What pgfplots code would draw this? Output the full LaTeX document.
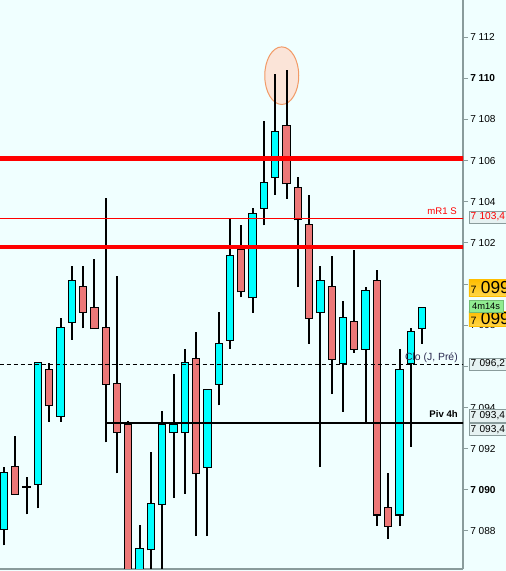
\documentclass[border=0pt]{standalone}
\usepackage{fontspec}
\setmainfont{Liberation Sans}
\usepackage{pgfplots}
\pgfplotsset{compat=1.18}
\usepackage{pgfplotstable}

\definecolor{bg}{HTML}{F0FFFF}
\definecolor{bullc}{HTML}{00FFFF}
\definecolor{bearc}{HTML}{EC7878}
\definecolor{scalec}{HTML}{8A9C9C}
\definecolor{boxbg}{HTML}{E6F2F2}
\definecolor{goldtop}{HTML}{FFBE00}
\definecolor{goldbot}{HTML}{FFD64A}
\definecolor{timer}{HTML}{90EC90}
\definecolor{halo}{HTML}{FBE4D8}
\definecolor{haloline}{HTML}{F29A66}
\definecolor{lbl}{HTML}{2A2A50}

% bullish candles (cyan): index open high low close
\pgfplotstableread{
i  o        h        l        c
0  7088.10  7091.10  7087.30  7090.80
2  7090.15  7090.60  7088.80  7090.15
3  7090.30  7096.15  7089.10  7096.15
5  7093.60  7098.35  7093.30  7097.85
6  7098.15  7100.90  7097.30  7100.15
12 7085.50  7088.30  7085.00  7087.10
13 7087.10  7091.85  7085.50  7089.30
14 7089.30  7093.85  7085.50  7093.15
15 7092.80  7095.65  7089.60  7093.15
16 7092.80  7096.85  7089.80  7096.15
18 7091.10  7094.85  7087.75  7094.85
19 7095.15  7098.65  7094.10  7097.10
20 7097.30  7103.15  7096.85  7101.35
22 7099.35  7103.70  7098.60  7103.40
23 7103.70  7107.95  7102.85  7104.90
24 7105.20  7110.20  7104.35  7107.40
28 7098.65  7100.90  7091.10  7100.15
30 7096.15  7099.20  7093.80  7098.35
32 7096.85  7099.85  7093.25  7099.65
35 7088.80  7096.85  7088.25  7095.80
36 7096.15  7097.85  7092.10  7097.65
37 7097.85  7098.85  7097.10  7098.85
}\bulltab

% bearish candles (red)
\pgfplotstableread{
i  o        h        l        c
1  7091.10  7092.60  7089.80  7089.80
4  7095.80  7096.15  7093.30  7094.10
7  7099.85  7100.90  7097.85  7098.65
8  7098.85  7101.20  7097.85  7097.85
9  7097.85  7104.20  7092.30  7095.15
10 7095.15  7100.40  7090.80  7092.80
11 7093.15  7093.35  7085.00  7085.50
17 7096.35  7097.65  7087.75  7090.80
21 7101.65  7102.85  7099.35  7099.65
25 7107.70  7110.40  7104.15  7104.90
26 7104.65  7105.20  7099.85  7103.15
27 7102.85  7104.35  7097.10  7098.35
29 7099.85  7101.35  7094.65  7096.35
31 7098.15  7101.65  7096.65  7096.85
33 7100.15  7100.70  7088.25  7088.80
34 7089.10  7090.80  7087.60  7088.25
}\beartab

\pgfplotsset{
  wick/.style={draw=none, no marks, forget plot,
    error bars/.cd, y dir=plus, y explicit, error mark=none,
    error bar style={draw=black, line width=1.5pt}},
  body/.style 2 args={draw=none, no marks, forget plot,
    error bars/.cd, y dir=plus, y explicit, error mark=none,
    error bar style={draw=#1, line width=#2}},
}

\begin{document}
\begin{tikzpicture}
\fill[bg] (0,0) rectangle (379.5pt,428.25pt);
\begin{axis}[
  at={(0,1.5pt)}, anchor=south west,
  scale only axis, width=347.25pt, height=426.75pt,
  xmin=-0.354, xmax=40.62, ymin=7086.15, ymax=7113.81,
  axis x line*=bottom, axis y line*=right,
  axis line style={scalec, line width=0.9pt},
  xtick=\empty,
  ytick={7088,7090,...,7112},
  yticklabels={7 088,\textbf{7 090},7 092,7 094,,7 098,,7 102,7 104,7 106,7 108,\textbf{7 110},7 112},
  tick align=outside, major tick length=3.75pt,
  ytick style={scalec, line width=0.75pt},
  yticklabel style={font=\fontsize{7.6}{9}\selectfont, text=black, inner sep=1pt, xshift=0.5pt},
]
% highlight round the top
\draw[haloline, fill=halo, line width=0.75pt] (axis cs:24.58,7110.13) ellipse [x radius=12.75pt, y radius=21.6pt];

% wicks
\addplot [wick] table [x=i, y=l, y error plus expr=\thisrow{h}-\thisrow{l}] {\bulltab};
\addplot [wick] table [x=i, y=l, y error plus expr=\thisrow{h}-\thisrow{l}] {\beartab};

% bodies: black outline, then colour
\addplot [body={black}{6.2pt}] table [x=i, y expr={min(\thisrow{o},\thisrow{c})-0.05}, y error plus expr={abs(\thisrow{c}-\thisrow{o})+0.1}] {\bulltab};
\addplot [body={bullc}{4.7pt}] table [x=i, y expr={min(\thisrow{o},\thisrow{c})}, y error plus expr={abs(\thisrow{c}-\thisrow{o})}] {\bulltab};
\addplot [body={black}{6.2pt}] table [x=i, y expr={min(\thisrow{o},\thisrow{c})-0.05}, y error plus expr={abs(\thisrow{c}-\thisrow{o})+0.1}] {\beartab};
\addplot [body={bearc}{4.7pt}] table [x=i, y expr={min(\thisrow{o},\thisrow{c})}, y error plus expr={abs(\thisrow{c}-\thisrow{o})}] {\beartab};

% levels
\addplot [red, line width=3.2pt, forget plot] coordinates {(-1,7106.1) (42,7106.1)};
\addplot [red, line width=3.2pt, forget plot] coordinates {(-1,7101.8) (42,7101.8)};
\addplot [red, line width=0.75pt, forget plot] coordinates {(-1,7103.2) (42,7103.2)};
\addplot [black, line width=0.75pt, dash pattern=on 3pt off 2.25pt, forget plot] coordinates {(-1,7096.07) (42,7096.07)};
\addplot [black, line width=1.5pt, forget plot] coordinates {(9.03,7093.26) (42,7093.26)};
\end{axis}

% level names
\node[anchor=east, inner sep=0pt, text=red, font=\fontsize{7.2}{8}\selectfont] at (342.75pt,269.5pt) {mR1 S};
\node[anchor=east, inner sep=0pt, text=lbl, font=\fontsize{7.8}{9}\selectfont] at (343.5pt,160pt) {Clo (J, Pré)};
\node[anchor=east, inner sep=0pt, text=black, font=\bfseries\fontsize{7.2}{8}\selectfont] at (343.5pt,117.5pt) {Piv 4h};

% price boxes on the scale
\tikzset{pbox/.style={anchor=west, draw=scalec, fill=boxbg, line width=0.5pt, minimum height=9pt,
  text width=38pt, align=left, inner xsep=1.2pt, inner ysep=0pt, font=\fontsize{7.6}{9}\selectfont}}
\node[pbox, text=red] at (351.5pt,265.5pt) {7 103,4};
\node[pbox] at (351.5pt,155.25pt) {7 096,2};
\node[pbox, minimum height=9.5pt] at (351.5pt,116.25pt) {7 093,4};
\node[pbox, minimum height=9.5pt] at (351.5pt,106.2pt) {7 093,4};
\node[anchor=west, draw=goldtop, top color=goldtop, bottom color=goldbot, minimum height=13pt,
  text width=38pt, align=left, inner xsep=1.2pt, inner ysep=0pt] at (351.5pt,212.25pt)
  {{\fontsize{8}{9}\selectfont 7 }{\fontsize{13}{14}\selectfont 099}};
\node[anchor=west, draw=goldtop, top color=goldtop, bottom color=goldbot, minimum height=11.5pt,
  text width=38pt, align=left, inner xsep=1.2pt, inner ysep=0pt] at (351.5pt,189pt)
  {{\fontsize{8}{9}\selectfont 7 }{\fontsize{13}{14}\selectfont 099}};
\node[anchor=west, draw=timer!80!black, fill=timer, minimum height=8.8pt, minimum width=25.7pt,
  inner sep=0pt, font=\fontsize{7}{8}\selectfont] at (351.5pt,198.75pt) {4m14s};

\pgfresetboundingbox
\path[use as bounding box] (0,0) rectangle (379.5pt,428.25pt);
\end{tikzpicture}
\end{document}
